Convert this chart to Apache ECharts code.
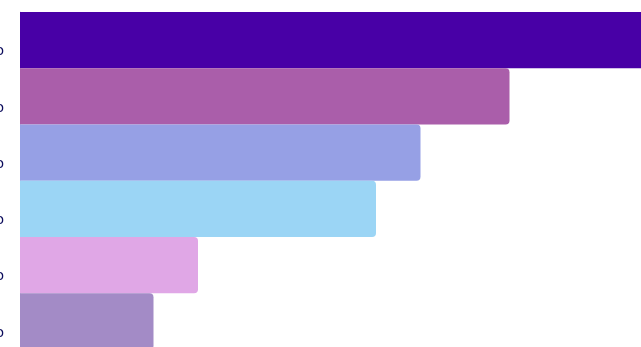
<!DOCTYPE html>
<html>
<head>
<meta charset="utf-8">
<script src="https://cdn.jsdelivr.net/npm/echarts@6/dist/echarts.min.js"></script>
<style>
  html, body { margin: 0; padding: 0; background: #fff; overflow: hidden; }
  #chart { width: 641px; height: 347px; }
</style>
</head>
<body>
<div id="chart"></div>
<script>
// Categories, top to bottom
const categories = ['Video', 'Photo', 'Audio', 'Memo', 'Demo', 'Promo'];
// Value per category
const values = [150, 110, 90, 80, 40, 30];
// One fill per bar
const barColors = ['#4800a6', '#aa5eaa', '#96a0e5', '#9bd5f5', '#e0a7e6', '#a38bc6'];

const chart = echarts.init(document.getElementById('chart'), null, { renderer: 'canvas' });

chart.setOption({
  animation: false,
  grid: {
    left: 20, top: 12, width: 667.5, height: 337.6,
    containLabel: false,
    outerBoundsMode: 'none'
  },
  xAxis: {
    type: 'value',
    min: 0,
    max: 150,
    show: false
  },
  yAxis: {
    type: 'category',
    data: categories,
    inverse: true,
    axisLine: { show: true, lineStyle: { color: '#ddd6ea', width: 1 } },
    axisTick: { show: false },
    splitLine: { show: false },
    axisLabel: {
      margin: 16,
      color: '#0c0c5c',
      fontSize: 14,
      fontFamily: 'DejaVu Sans',
      verticalAlign: 'top',
      lineHeight: 23
    }
  },
  series: [{
    type: 'bar',
    barCategoryGap: 0,
    data: values.map((v, i) => ({
      value: v,
      itemStyle: { color: barColors[i] }
    })),
    itemStyle: {
      borderRadius: [0, 4, 4, 0]
    }
  }]
});
</script>
</body>
</html>
